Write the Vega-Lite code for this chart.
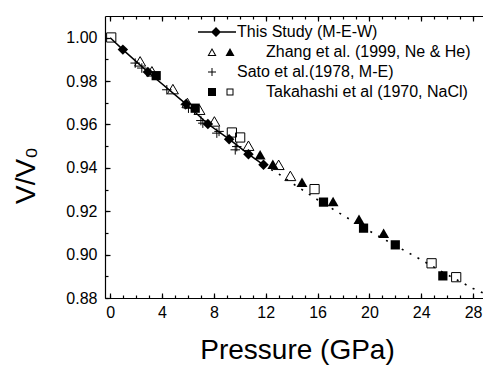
{
  "$schema": "https://vega.github.io/schema/vega-lite/v6.json",
  "width": 381,
  "height": 282,
  "autosize": {"type": "none"},
  "padding": {"left": 105, "top": 16, "right": 0, "bottom": 67},
  "background": "white",
  "config": {
    "view": {"stroke": null},
    "font": "Liberation Sans",
    "axis": {
      "domainColor": "black", "tickColor": "black", "labelColor": "black", "titleColor": "black",
      "grid": false, "domainWidth": 1.2, "tickWidth": 1.2,
      "labelFont": "Liberation Sans", "titleFont": "Liberation Sans",
      "labelFontSize": 16, "titleFontSize": 28, "titleFontWeight": "normal"
    },
    "legend": {
      "orient": "none", "title": null,
      "symbolSize": 100, "rowPadding": 24,
      "labelFontSize": 16, "labelFont": "Liberation Sans", "labelColor": "black",
      "symbolStrokeWidth": 0, "symbolOpacity": 1, "symbolFillColor": "black",
      "padding": 0, "labelLimit": 400
    }
  },
  "datasets": {
    "pts": [
      {"P": 0.98, "V": 0.9945, "s": "d"}, {"P": 2.91, "V": 0.9842, "s": "d"}, {"P": 5.86, "V": 0.9694, "s": "d"},
      {"P": 7.54, "V": 0.9602, "s": "d"}, {"P": 9.18, "V": 0.9532, "s": "d"}, {"P": 10.67, "V": 0.9463, "s": "d"},
      {"P": 11.83, "V": 0.9414, "s": "d"},
      {"P": 2.31, "V": 0.9891, "s": "to"}, {"P": 3.22, "V": 0.9845, "s": "to"}, {"P": 4.84, "V": 0.9763, "s": "to"},
      {"P": 5.96, "V": 0.9699, "s": "to"}, {"P": 6.89, "V": 0.9668, "s": "to"}, {"P": 8.04, "V": 0.9614, "s": "to"},
      {"P": 10.67, "V": 0.9502, "s": "to"}, {"P": 13.0, "V": 0.9414, "s": "to"}, {"P": 13.9, "V": 0.9363, "s": "to"},
      {"P": 11.57, "V": 0.946, "s": "tf"}, {"P": 12.55, "V": 0.9417, "s": "tf"}, {"P": 14.8, "V": 0.9334, "s": "tf"},
      {"P": 17.2, "V": 0.9245, "s": "tf"}, {"P": 19.2, "V": 0.9163, "s": "tf"}, {"P": 21.1, "V": 0.9099, "s": "tf"},
      {"P": 1.93, "V": 0.9883, "s": "c"}, {"P": 2.44, "V": 0.986, "s": "c"}, {"P": 4.37, "V": 0.976, "s": "c"},
      {"P": 5.8, "V": 0.9691, "s": "c"}, {"P": 6.04, "V": 0.9675, "s": "c"}, {"P": 7.0, "V": 0.9618, "s": "c"},
      {"P": 7.15, "V": 0.9606, "s": "c"}, {"P": 8.23, "V": 0.956, "s": "c"}, {"P": 8.4, "V": 0.9568, "s": "c"},
      {"P": 9.65, "V": 0.9483, "s": "c"}, {"P": 9.77, "V": 0.9498, "s": "c"},
      {"P": 3.55, "V": 0.9825, "s": "sf"}, {"P": 6.56, "V": 0.9675, "s": "sf"}, {"P": 16.46, "V": 0.9242, "s": "sf"},
      {"P": 19.55, "V": 0.9122, "s": "sf"}, {"P": 22.0, "V": 0.9045, "s": "sf"}, {"P": 25.67, "V": 0.8902, "s": "sf"},
      {"P": 0.08, "V": 1.0001, "s": "so"}, {"P": 9.39, "V": 0.9563, "s": "so"}, {"P": 10.03, "V": 0.954, "s": "so"},
      {"P": 15.77, "V": 0.9302, "s": "so"}, {"P": 24.8, "V": 0.896, "s": "so"}, {"P": 26.7, "V": 0.8896, "s": "so"}
    ],
    "line": [
      {"P": 0, "V": 1.0}, {"P": 0.98, "V": 0.9945}, {"P": 2.91, "V": 0.9842}, {"P": 5.86, "V": 0.9694},
      {"P": 7.54, "V": 0.9602}, {"P": 9.18, "V": 0.9532}, {"P": 10.67, "V": 0.9463}, {"P": 11.83, "V": 0.9414}
    ],
    "fit": [
      {"P": 11.83, "V": 0.9414}, {"P": 13.1, "V": 0.9368}, {"P": 14, "V": 0.9331}, {"P": 16, "V": 0.9253},
      {"P": 18, "V": 0.918}, {"P": 20, "V": 0.9109}, {"P": 22, "V": 0.9042}, {"P": 24, "V": 0.8976},
      {"P": 26, "V": 0.8908}, {"P": 28, "V": 0.8844}, {"P": 29, "V": 0.8817}
    ]
  },
  "resolve": {"axis": {"x": "independent", "y": "independent"}, "scale": {"shape": "independent"}, "legend": {"shape": "independent"}},
  "layer": [
    {
      "data": {"name": "fit"},
      "mark": {"type": "line", "color": "black", "strokeWidth": 1.6, "strokeDash": [2, 7], "clip": true},
      "encoding": {
        "x": {"field": "P", "type": "quantitative", "scale": {"domain": [-0.4, 29], "nice": false, "zero": false},
          "axis": {"orient": "bottom", "values": [0,1,2,3,4,5,6,7,8,9,10,11,12,13,14,15,16,17,18,19,20,21,22,23,24,25,26,27,28,29], "labels": false, "tickSize": -3, "title": null, "domain": true}},
        "y": {"field": "V", "type": "quantitative", "scale": {"domain": [0.88, 1.01], "nice": false, "zero": false},
          "axis": {"orient": "left", "values": [0.88,0.89,0.9,0.91,0.92,0.93,0.94,0.95,0.96,0.97,0.98,0.99,1.0], "labels": false, "tickSize": -3, "title": null, "domain": true}}
      }
    },
    {
      "data": {"name": "line"},
      "mark": {"type": "line", "color": "black", "strokeWidth": 1.5},
      "encoding": {
        "x": {"field": "P", "type": "quantitative", "scale": {"domain": [-0.4, 29], "nice": false, "zero": false},
          "axis": {"orient": "bottom", "values": [0,4,8,12,16,20,24,28], "tickSize": -5, "labelPadding": 11, "domain": false,
            "title": "Pressure (GPa)", "titleY": 60, "titleX": 192, "titleBaseline": "alphabetic", "titleAlign": "center"}},
        "y": {"field": "V", "type": "quantitative", "scale": {"domain": [0.88, 1.01], "nice": false, "zero": false},
          "axis": {"orient": "left", "values": [0.88,0.9,0.92,0.94,0.96,0.98,1.0], "format": ".2f", "tickSize": -5, "labelPadding": 13, "domain": false,
            "title": "V/V₀", "titleX": -71, "titleY": 159, "titleAngle": -90, "titleAlign": "center", "titleBaseline": "alphabetic"}}
      }
    },
    {
      "data": {"name": "pts"},
      "transform": [{"filter": "datum.s === 'd'"}],
      "mark": {"type": "point", "shape": "diamond", "filled": true, "color": "black", "size": 110, "opacity": 1},
      "encoding": {
        "x": {"field": "P", "type": "quantitative", "scale": {"domain": [-0.4, 29], "nice": false, "zero": false},
          "axis": {"orient": "top", "values": [0,1,2,3,4,5,6,7,8,9,10,11,12,13,14,15,16,17,18,19,20,21,22,23,24,25,26,27,28,29], "labels": false, "tickSize": -3, "title": null, "domain": true}},
        "y": {"field": "V", "type": "quantitative", "scale": {"domain": [0.88, 1.01], "nice": false, "zero": false}, "axis": null}
      }
    },
    {
      "data": {"name": "pts"},
      "transform": [{"filter": "datum.s === 'to'"}],
      "mark": {"type": "point", "shape": "triangle-up", "filled": false, "color": "black", "strokeWidth": 1, "size": 120, "opacity": 1},
      "encoding": {
        "x": {"field": "P", "type": "quantitative", "scale": {"domain": [-0.4, 29], "nice": false, "zero": false},
          "axis": {"orient": "top", "values": [0,4,8,12,16,20,24,28], "labels": false, "tickSize": -5, "title": null, "domain": false}},
        "y": {"field": "V", "type": "quantitative", "scale": {"domain": [0.88, 1.01], "nice": false, "zero": false}, "axis": null}
      }
    },
    {
      "data": {"name": "pts"},
      "transform": [{"filter": "datum.s === 'tf'"}],
      "mark": {"type": "point", "shape": "triangle-up", "filled": true, "color": "black", "size": 120, "opacity": 1},
      "encoding": {
        "x": {"field": "P", "type": "quantitative", "scale": {"domain": [-0.4, 29], "nice": false, "zero": false}, "axis": null},
        "y": {"field": "V", "type": "quantitative", "scale": {"domain": [0.88, 1.01], "nice": false, "zero": false}, "axis": null}
      }
    },
    {
      "data": {"name": "pts"},
      "transform": [{"filter": "datum.s === 'c'"}],
      "mark": {"type": "point", "shape": "M-1,0H1M0,-1V1", "filled": false, "color": "black", "strokeWidth": 1, "size": 90, "opacity": 1},
      "encoding": {
        "x": {"field": "P", "type": "quantitative", "scale": {"domain": [-0.4, 29], "nice": false, "zero": false}, "axis": null},
        "y": {"field": "V", "type": "quantitative", "scale": {"domain": [0.88, 1.01], "nice": false, "zero": false}, "axis": null}
      }
    },
    {
      "data": {"name": "pts"},
      "transform": [{"filter": "datum.s === 'sf'"}],
      "mark": {"type": "point", "shape": "square", "filled": true, "color": "black", "size": 85, "opacity": 1},
      "encoding": {
        "x": {"field": "P", "type": "quantitative", "scale": {"domain": [-0.4, 29], "nice": false, "zero": false}, "axis": null},
        "y": {"field": "V", "type": "quantitative", "scale": {"domain": [0.88, 1.01], "nice": false, "zero": false}, "axis": null}
      }
    },
    {
      "data": {"name": "pts"},
      "transform": [{"filter": "datum.s === 'so'"}],
      "mark": {"type": "point", "shape": "square", "filled": false, "color": "black", "strokeWidth": 1, "size": 85, "opacity": 1},
      "encoding": {
        "x": {"field": "P", "type": "quantitative", "scale": {"domain": [-0.4, 29], "nice": false, "zero": false}, "axis": null},
        "y": {"field": "V", "type": "quantitative", "scale": {"domain": [0.88, 1.01], "nice": false, "zero": false}, "axis": null}
      }
    },
    {
      "data": {"name": "pts"},
      "transform": [{"filter": "false"}],
      "mark": {"type": "point", "filled": true, "color": "black"},
      "encoding": {
        "x": {"field": "P", "type": "quantitative", "scale": {"domain": [-0.4, 29], "nice": false, "zero": false}, "axis": null},
        "y": {"field": "V", "type": "quantitative", "scale": {"domain": [0.88, 1.01], "nice": false, "zero": false}, "axis": null},
        "shape": {"field": "s", "type": "nominal",
          "scale": {
            "domain": ["This Study (M-E-W)", "Sato et al.(1978, M-E)"],
            "range": [
              "M-3.8,-0.15H3.8V0.15H-3.8Z M-0.2,-1L0.8,0L-0.2,1L-1.2,0Z",
              "M-1.8,-0.1H-0.2V0.1H-1.8Z M-1.1,-0.8H-0.9V0.8H-1.1Z"
            ]
          },
          "legend": {"legendX": 104, "legendY": 8, "labelOffset": 12}
        }
      }
    },
    {
      "data": {"name": "pts"},
      "transform": [{"filter": "false"}],
      "mark": {"type": "point", "filled": true, "color": "black"},
      "encoding": {
        "x": {"field": "P", "type": "quantitative", "scale": {"domain": [-0.4, 29], "nice": false, "zero": false}, "axis": null},
        "y": {"field": "V", "type": "quantitative", "scale": {"domain": [0.88, 1.01], "nice": false, "zero": false}, "axis": null},
        "shape": {"field": "s", "type": "nominal",
          "scale": {
            "domain": ["Zhang et al. (1999, Ne & He)", "Takahashi et al (1970, NaCl)"],
            "range": [
              "M-1.9,0.8L-1,-0.8L-0.1,0.8Z M-0.45,0.6L-1,-0.4L-1.55,0.6Z M1.7,0.8L2.6,-0.8L3.5,0.8Z",
              "M-1.8,-0.8H-0.2V0.8H-1.8Z M1.9,-0.7H3.3V0.7H1.9Z M2.1,-0.5V0.5H3.1V-0.5Z"
            ]
          },
          "legend": {"legendX": 104, "legendY": 28, "labelOffset": 41}
        }
      }
    }
  ]
}
